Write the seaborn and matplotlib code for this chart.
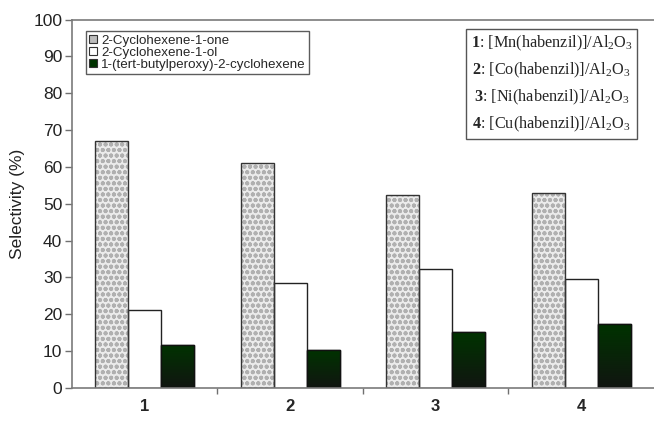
import numpy as np
import pandas as pd
import matplotlib
matplotlib.use("Agg")
import matplotlib.pyplot as plt
import seaborn as sns
from matplotlib.patches import Rectangle
from matplotlib.ticker import FixedLocator
from matplotlib.colors import LinearSegmentedColormap

# ---- data ----
catalysts = ["1", "2", "3", "4"]
series_names = ["2-Cyclohexene-1-one", "2-Cyclohexene-1-ol", "1-(tert-butylperoxy)-2-cyclohexene"]
cyclohexenone = [67.0, 61.0, 52.5, 52.8]
cyclohexenol = [21.2, 28.4, 32.2, 29.6]
peroxy = [11.7, 10.4, 15.1, 17.4]
catalyst_labels = [
    r"$\mathbf{1}$: [Mn(habenzil)]/Al$_2$O$_3$",
    r"$\mathbf{2}$: [Co(habenzil)]/Al$_2$O$_3$",
    r"$\mathbf{3}$: [Ni(habenzil)]/Al$_2$O$_3$",
    r"$\mathbf{4}$: [Cu(habenzil)]/Al$_2$O$_3$",
]
y_ticks = [0, 10, 20, 30, 40, 50, 60, 70, 80, 90, 100]

df = pd.DataFrame({
    "catalyst": catalysts * 3,
    "product": [series_names[0]] * 4 + [series_names[1]] * 4 + [series_names[2]] * 4,
    "selectivity": cyclohexenone + cyclohexenol + peroxy,
})

sns.set_style("white")
plt.rcParams["font.family"] = ["Liberation Sans", "DejaVu Sans"]
plt.rcParams["mathtext.fontset"] = "custom"
plt.rcParams["mathtext.rm"] = "Liberation Serif"
plt.rcParams["mathtext.it"] = "Liberation Serif:italic"
plt.rcParams["mathtext.bf"] = "Liberation Serif:bold"
plt.rcParams["hatch.linewidth"] = 1.3

fig = plt.figure(figsize=(6.54, 4.23), dpi=100)
ax = fig.add_axes([0.110, 0.0827, 0.89, 0.871])

palette = {series_names[0]: "#ebebeb", series_names[1]: "#ffffff", series_names[2]: "#003300"}
sns.barplot(data=df, x="catalyst", y="selectivity", hue="product", order=catalysts,
            hue_order=series_names, palette=palette, width=0.68, gap=0,
            edgecolor="#222222", linewidth=1.0, saturation=1, ax=ax, legend=False)

# style bars
conts = ax.containers
for p in conts[0]:
    p.set_hatch("ooo")
    p.set_edgecolor("#b0b0b0")
    p.set_linewidth(0)
    ax.add_patch(Rectangle(p.get_xy(), p.get_width(), p.get_height(), fill=False,
                           ec="#333333", lw=1.0, zorder=p.get_zorder() + 0.1))
grad = np.linspace(0, 1, 256).reshape(-1, 1)
cm = LinearSegmentedColormap.from_list("g", ["#111511", "#003300"])
for p in conts[2]:
    x0, y0 = p.get_xy()
    im = ax.imshow(grad, cmap=cm, origin="lower", aspect="auto",
                   extent=[x0, x0 + p.get_width(), y0, y0 + p.get_height()],
                   zorder=p.get_zorder() + 0.05)
    im.set_clip_path(p)
    ax.add_patch(Rectangle(p.get_xy(), p.get_width(), p.get_height(), fill=False,
                           ec="#111111", lw=1.0, zorder=p.get_zorder() + 0.1))

ax.set_xlim(-0.5, 3.5)
ax.set_ylim(0, 100)
ax.set_yticks(y_ticks)
ax.set_xlabel("")
ax.set_ylabel("Selectivity (%)", fontsize=12.5, color="#222222", labelpad=6)
ax.tick_params(axis="y", which="major", direction="out", length=5, width=1, color="#707070",
               labelsize=12.5, labelcolor="#222222", left=True, pad=2)
ax.tick_params(axis="x", which="major", length=0, labelsize=12, pad=8)
for lbl in ax.get_xticklabels():
    lbl.set_fontweight("bold")
ax.xaxis.set_minor_locator(FixedLocator([0.5, 1.5, 2.5]))
ax.tick_params(axis="x", which="minor", direction="out", length=4, width=1, color="#707070", bottom=True)

for side in ["left", "bottom", "top"]:
    ax.spines[side].set_visible(True)
    ax.spines[side].set_color("#7a7a7a")
    ax.spines[side].set_linewidth(1.2)
ax.spines["right"].set_visible(False)

leg = ax.legend(conts[:3], series_names, loc="upper left", bbox_to_anchor=(0.024, 0.968),
                borderaxespad=0, fontsize=9.6, handlelength=0.6, handleheight=0.6,
                handletextpad=0.3, labelspacing=0.0, borderpad=0.25, frameon=True,
                fancybox=False, edgecolor="#333333")
leg.get_frame().set_linewidth(1.0)
for i, h in enumerate(leg.legend_handles):
    h.set_linewidth(0.8)
    h.set_edgecolor("#333333")
    if i == 0:
        h.set_hatch("")
        h.set_facecolor("#bdbdbd")

ax.text(0.824, 0.962, "\n".join(catalyst_labels), transform=ax.transAxes,
        ha="center", va="top", fontsize=11.7, linespacing=1.58, family="Liberation Serif",
        bbox=dict(boxstyle="square,pad=0.3", fc="white", ec="#555555", lw=1.0))

fig.savefig("out.png", dpi=100)
